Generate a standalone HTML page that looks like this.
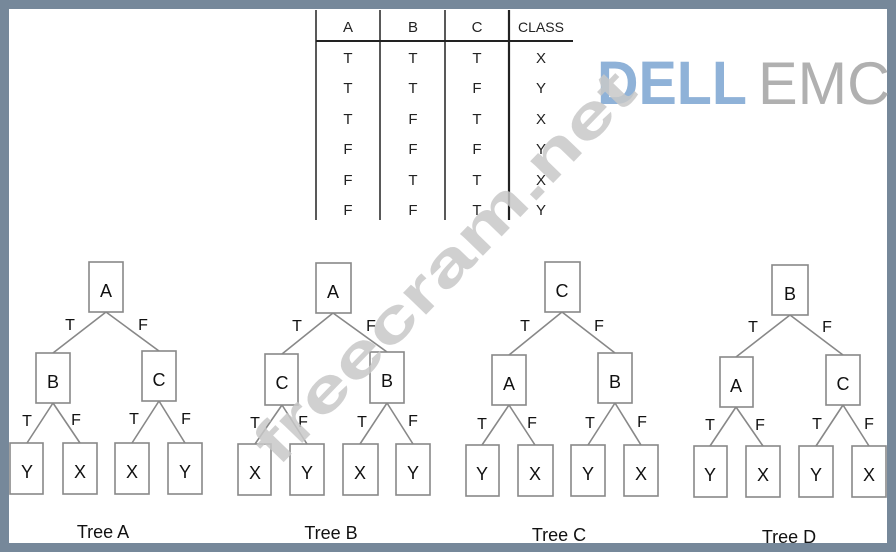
<!DOCTYPE html>
<html><head><meta charset="utf-8"><style>
html,body{margin:0;padding:0;width:896px;height:552px;overflow:hidden;background:#76889a;}
svg{display:block}
</style></head><body>
<svg width="896" height="552" viewBox="0 0 896 552" xmlns="http://www.w3.org/2000/svg" font-family="Liberation Sans, sans-serif">
<rect x="0" y="0" width="896" height="552" fill="#76889a"/>
<rect x="9" y="9" width="878" height="534" fill="#ffffff"/>
<!-- table -->
<g stroke="#222" stroke-width="1.5">
<line x1="316" y1="10" x2="316" y2="220"/>
<line x1="380" y1="10" x2="380" y2="220"/>
<line x1="445" y1="10" x2="445" y2="220"/>
<line x1="509" y1="10" x2="509" y2="220" stroke-width="2.2"/>
<line x1="316" y1="41" x2="573" y2="41" stroke-width="2"/>
</g>
<g font-size="15" fill="#222" text-anchor="middle">
<text x="348" y="32">A</text><text x="413" y="32">B</text><text x="477" y="32">C</text><text x="541" y="32" font-size="14">CLASS</text>
<text x="348" y="63">T</text><text x="413" y="63">T</text><text x="477" y="63">T</text><text x="541" y="63">X</text>
<text x="348" y="93">T</text><text x="413" y="93">T</text><text x="477" y="93">F</text><text x="541" y="93">Y</text>
<text x="348" y="124">T</text><text x="413" y="124">F</text><text x="477" y="124">T</text><text x="541" y="124">X</text>
<text x="348" y="154">F</text><text x="413" y="154">F</text><text x="477" y="154">F</text><text x="541" y="154">Y</text>
<text x="348" y="185">F</text><text x="413" y="185">T</text><text x="477" y="185">T</text><text x="541" y="185">X</text>
<text x="348" y="215">F</text><text x="413" y="215">F</text><text x="477" y="215">T</text><text x="541" y="215">Y</text>
</g>
<!-- logo -->
<text x="597" y="104" font-size="61" font-weight="bold" fill="#8fb2d8" textLength="150" lengthAdjust="spacingAndGlyphs">DELL</text>
<text x="758" y="104" font-size="60" fill="#b0b0b0" textLength="132" lengthAdjust="spacingAndGlyphs">EMC</text>

<g stroke="#888" stroke-width="1.6" fill="none">
<!-- Tree A -->
<rect x="89" y="262" width="34" height="50"/><rect x="36" y="353" width="34" height="50"/><rect x="142" y="351" width="34" height="50"/>
<rect x="10" y="443" width="33" height="51"/><rect x="63" y="443" width="34" height="51"/><rect x="115" y="443" width="34" height="51"/><rect x="168" y="443" width="34" height="51"/>
<path d="M106 312L53 353M106 312L159 351M53 403L27 443M53 403L80 443M159 401L132 443M159 401L185 443"/>
<!-- Tree B -->
<rect x="316" y="263" width="35" height="50"/><rect x="265" y="354" width="33" height="51"/><rect x="370" y="352" width="34" height="51"/>
<rect x="238" y="444" width="33" height="51"/><rect x="290" y="444" width="34" height="51"/><rect x="343" y="444" width="35" height="51"/><rect x="396" y="444" width="34" height="51"/>
<path d="M333 313L282 354M333 313L387 352M282 405L255 444M282 405L307 444M387 403L360 444M387 403L413 444"/>
<!-- Tree C -->
<rect x="545" y="262" width="35" height="50"/><rect x="492" y="355" width="34" height="50"/><rect x="598" y="353" width="34" height="50"/>
<rect x="466" y="445" width="33" height="51"/><rect x="518" y="445" width="35" height="51"/><rect x="571" y="445" width="34" height="51"/><rect x="624" y="445" width="34" height="51"/>
<path d="M562 312L509 355M562 312L615 353M509 405L482 445M509 405L535 445M615 403L588 445M615 403L641 445"/>
<!-- Tree D -->
<rect x="772" y="265" width="36" height="50"/><rect x="720" y="357" width="33" height="50"/><rect x="826" y="355" width="34" height="50"/>
<rect x="694" y="446" width="33" height="51"/><rect x="746" y="446" width="34" height="51"/><rect x="799" y="446" width="34" height="51"/><rect x="852" y="446" width="34" height="51"/>
<path d="M790 315L736 357M790 315L843 355M736 407L710 446M736 407L763 446M843 405L816 446M843 405L869 446"/>
</g>
<g font-size="18" fill="#111" text-anchor="middle">
<text x="106" y="297">A</text><text x="53" y="388">B</text><text x="159" y="386">C</text>
<text x="27" y="478">Y</text><text x="80" y="478">X</text><text x="132" y="478">X</text><text x="185" y="478">Y</text>
<text x="333" y="298">A</text><text x="282" y="389">C</text><text x="387" y="387">B</text>
<text x="255" y="479">X</text><text x="307" y="479">Y</text><text x="360" y="479">X</text><text x="413" y="479">Y</text>
<text x="562" y="297">C</text><text x="509" y="390">A</text><text x="615" y="388">B</text>
<text x="482" y="480">Y</text><text x="535" y="480">X</text><text x="588" y="480">Y</text><text x="641" y="480">X</text>
<text x="790" y="300">B</text><text x="736" y="392">A</text><text x="843" y="390">C</text>
<text x="710" y="481">Y</text><text x="763" y="481">X</text><text x="816" y="481">Y</text><text x="869" y="481">X</text>
</g>
<g font-size="16" fill="#111" text-anchor="middle">
<text x="70" y="330">T</text><text x="143" y="330">F</text><text x="27" y="426">T</text><text x="76" y="425">F</text><text x="134" y="424">T</text><text x="186" y="424">F</text>
<text x="297" y="331">T</text><text x="371" y="331">F</text><text x="255" y="428">T</text><text x="303" y="427">F</text><text x="362" y="427">T</text><text x="413" y="426">F</text>
<text x="525" y="331">T</text><text x="599" y="331">F</text><text x="482" y="429">T</text><text x="532" y="428">F</text><text x="590" y="428">T</text><text x="642" y="427">F</text>
<text x="753" y="332">T</text><text x="827" y="332">F</text><text x="710" y="430">T</text><text x="760" y="430">F</text><text x="817" y="429">T</text><text x="869" y="429">F</text>
</g>
<g font-size="18" fill="#111" text-anchor="middle">
<text x="103" y="538">Tree A</text><text x="331" y="539">Tree B</text><text x="559" y="541">Tree C</text><text x="789" y="543">Tree D</text>
</g>
<!-- watermark -->
<text x="0" y="0" transform="translate(278,468) rotate(-46)" font-size="60" font-weight="bold" fill="#c8c8c8" fill-opacity="0.85" textLength="520" lengthAdjust="spacingAndGlyphs">freecram.net</text>
</svg>
</body></html>
